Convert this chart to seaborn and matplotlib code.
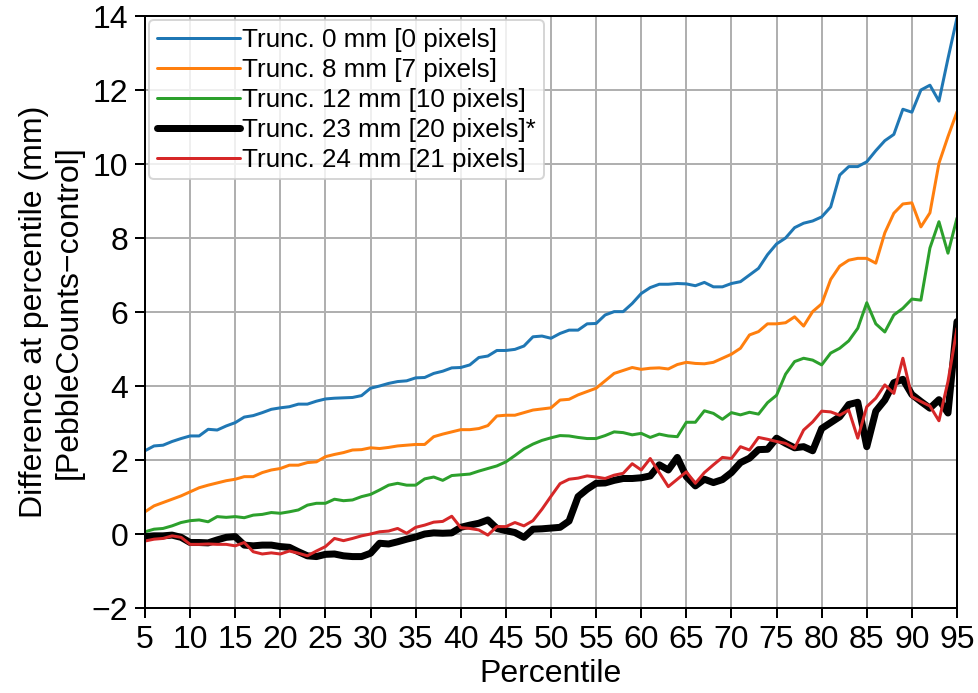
import numpy as np
import pandas as pd
import seaborn as sns
import matplotlib.pyplot as plt

percentiles = list(range(5, 96))

trunc_0mm = [2.25, 2.38, 2.40, 2.50, 2.58, 2.65, 2.65, 2.83, 2.81, 2.92,
             3.01, 3.16, 3.20, 3.28, 3.37, 3.41, 3.44, 3.51, 3.51, 3.59,
             3.65, 3.67, 3.68, 3.69, 3.74, 3.94, 4.00, 4.07, 4.12, 4.14,
             4.22, 4.23, 4.34, 4.40, 4.49, 4.50, 4.57, 4.77, 4.81, 4.96,
             4.96, 4.99, 5.08, 5.33, 5.35, 5.29, 5.42, 5.51, 5.51, 5.68,
             5.69, 5.92, 6.01, 6.01, 6.23, 6.50, 6.66, 6.75, 6.75, 6.77,
             6.76, 6.71, 6.80, 6.68, 6.68, 6.77, 6.82, 7.00, 7.18, 7.55,
             7.84, 8.00, 8.28, 8.40, 8.46, 8.57, 8.84, 9.70, 9.93, 9.93,
             10.06, 10.36, 10.63, 10.80, 11.48, 11.40, 12.00, 12.13, 11.70, 12.85, 13.95]

trunc_8mm = [0.60, 0.76, 0.85, 0.94, 1.03, 1.14, 1.25, 1.32, 1.38, 1.44,
             1.48, 1.55, 1.55, 1.66, 1.73, 1.77, 1.86, 1.86, 1.93, 1.95,
             2.09, 2.15, 2.20, 2.27, 2.28, 2.33, 2.31, 2.34, 2.38, 2.40,
             2.42, 2.42, 2.63, 2.70, 2.76, 2.82, 2.82, 2.85, 2.93, 3.19,
             3.21, 3.21, 3.28, 3.35, 3.38, 3.41, 3.62, 3.64, 3.76, 3.85,
             3.94, 4.14, 4.34, 4.42, 4.50, 4.45, 4.48, 4.49, 4.46, 4.58,
             4.64, 4.61, 4.60, 4.64, 4.75, 4.86, 5.02, 5.38, 5.47, 5.68,
             5.68, 5.71, 5.87, 5.62, 6.01, 6.22, 6.88, 7.24, 7.40, 7.45,
             7.45, 7.32, 8.14, 8.67, 8.92, 8.95, 8.30, 8.68, 10.02, 10.74, 11.41]

trunc_12mm = [0.06, 0.13, 0.15, 0.22, 0.31, 0.36, 0.38, 0.33, 0.47, 0.45,
              0.47, 0.44, 0.51, 0.53, 0.58, 0.56, 0.60, 0.65, 0.78, 0.83,
              0.83, 0.94, 0.90, 0.92, 1.01, 1.07, 1.19, 1.32, 1.37, 1.32,
              1.32, 1.49, 1.54, 1.45, 1.58, 1.60, 1.62, 1.70, 1.77, 1.84,
              1.95, 2.12, 2.30, 2.43, 2.53, 2.60, 2.66, 2.65, 2.61, 2.58,
              2.58, 2.66, 2.76, 2.74, 2.68, 2.72, 2.61, 2.70, 2.65, 2.63,
              3.02, 3.02, 3.33, 3.26, 3.10, 3.28, 3.22, 3.29, 3.24, 3.55,
              3.75, 4.32, 4.66, 4.75, 4.70, 4.57, 4.89, 5.02, 5.22, 5.56,
              6.25, 5.68, 5.46, 5.92, 6.10, 6.35, 6.32, 7.73, 8.44, 7.59, 8.54]

trunc_23mm = [-0.07, -0.05, -0.05, -0.03, -0.09, -0.23, -0.23, -0.24, -0.16, -0.09,
              -0.07, -0.30, -0.32, -0.30, -0.30, -0.34, -0.36, -0.48, -0.59, -0.61,
              -0.55, -0.54, -0.59, -0.61, -0.61, -0.52, -0.25, -0.27, -0.21, -0.14,
              -0.08, 0.00, 0.03, 0.02, 0.03, 0.18, 0.24, 0.29, 0.38, 0.15,
              0.09, 0.04, -0.09, 0.13, 0.14, 0.16, 0.18, 0.35, 1.01, 1.21,
              1.37, 1.38, 1.45, 1.50, 1.50, 1.52, 1.57, 1.87, 1.73, 2.07,
              1.55, 1.30, 1.48, 1.39, 1.47, 1.66, 1.93, 2.05, 2.28, 2.29,
              2.59, 2.45, 2.33, 2.36, 2.25, 2.85, 3.01, 3.17, 3.50, 3.56,
              2.36, 3.32, 3.62, 4.09, 4.18, 3.77, 3.58, 3.40, 3.63, 3.27, 5.74]

trunc_24mm = [-0.19, -0.14, -0.12, -0.05, -0.09, -0.28, -0.28, -0.27, -0.28, -0.28,
              -0.32, -0.23, -0.48, -0.54, -0.51, -0.54, -0.46, -0.52, -0.59, -0.46,
              -0.34, -0.12, -0.18, -0.12, -0.05, 0.00, 0.06, 0.08, 0.15, 0.02,
              0.18, 0.24, 0.32, 0.34, 0.48, 0.17, 0.15, 0.11, -0.03, 0.20,
              0.20, 0.31, 0.22, 0.36, 0.67, 1.02, 1.36, 1.48, 1.51, 1.57,
              1.54, 1.50, 1.59, 1.64, 1.90, 1.73, 2.04, 1.66, 1.28, 1.48,
              1.68, 1.37, 1.66, 1.87, 2.07, 2.04, 2.36, 2.27, 2.61, 2.56,
              2.50, 2.45, 2.32, 2.81, 3.03, 3.32, 3.30, 3.21, 3.35, 2.59,
              3.44, 3.67, 4.03, 3.80, 4.75, 3.71, 3.58, 3.46, 3.06, 4.12, 5.56]

labels = ["Trunc. 0 mm [0 pixels]", "Trunc. 8 mm [7 pixels]",
          "Trunc. 12 mm [10 pixels]", "Trunc. 23 mm [20 pixels]*",
          "Trunc. 24 mm [21 pixels]"]
series = [trunc_0mm, trunc_8mm, trunc_12mm, trunc_23mm, trunc_24mm]
colors = ["#1f77b4", "#ff7f0e", "#2ca02c", "black", "#d62728"]
widths = [1.5, 1.5, 1.5, 3.5, 1.5]

sns.set_style("ticks")
plt.rcParams['font.family'] = ['Liberation Sans', 'DejaVu Sans']
plt.rcParams['text.color'] = 'black'
plt.rcParams['axes.labelcolor'] = 'black'
plt.rcParams['xtick.color'] = 'black'
plt.rcParams['ytick.color'] = 'black'

fig = plt.figure(figsize=(978 / 144, 693 / 144), dpi=144)
ax = fig.add_axes([145 / 978, 1 - 608 / 693, (957 - 145) / 978, (608 - 16) / 693])

for vals, lab, col, lw in zip(series, labels, colors, widths):
    sns.lineplot(x=percentiles, y=vals, ax=ax, color=col, linewidth=lw, label=lab)

ax.set_xlim(5, 95)
ax.set_ylim(-2, 14)
ax.set_xticks(range(5, 96, 5))
ax.set_yticks(range(-2, 15, 2))
ax.grid(True, color="#b0b0b0", linewidth=1.0)
ax.set_axisbelow(True)
ax.tick_params(labelsize=16, length=5, width=1.0, color="black", direction="out")
for s in ax.spines.values():
    s.set_visible(True)
    s.set_color("black")
    s.set_linewidth(1.0)

ax.set_xlabel("Percentile", fontsize=16, labelpad=2)
ax.set_ylabel("Difference at percentile (mm)\n[PebbleCounts\u2212control]", fontsize=16, labelpad=4)

ax.legend(loc="upper left", fontsize=13, handlelength=3.2, handletextpad=0.1,
          labelspacing=0.23, borderaxespad=0.15, borderpad=0.3, framealpha=0.8)

fig.savefig("out.png", dpi=144)
